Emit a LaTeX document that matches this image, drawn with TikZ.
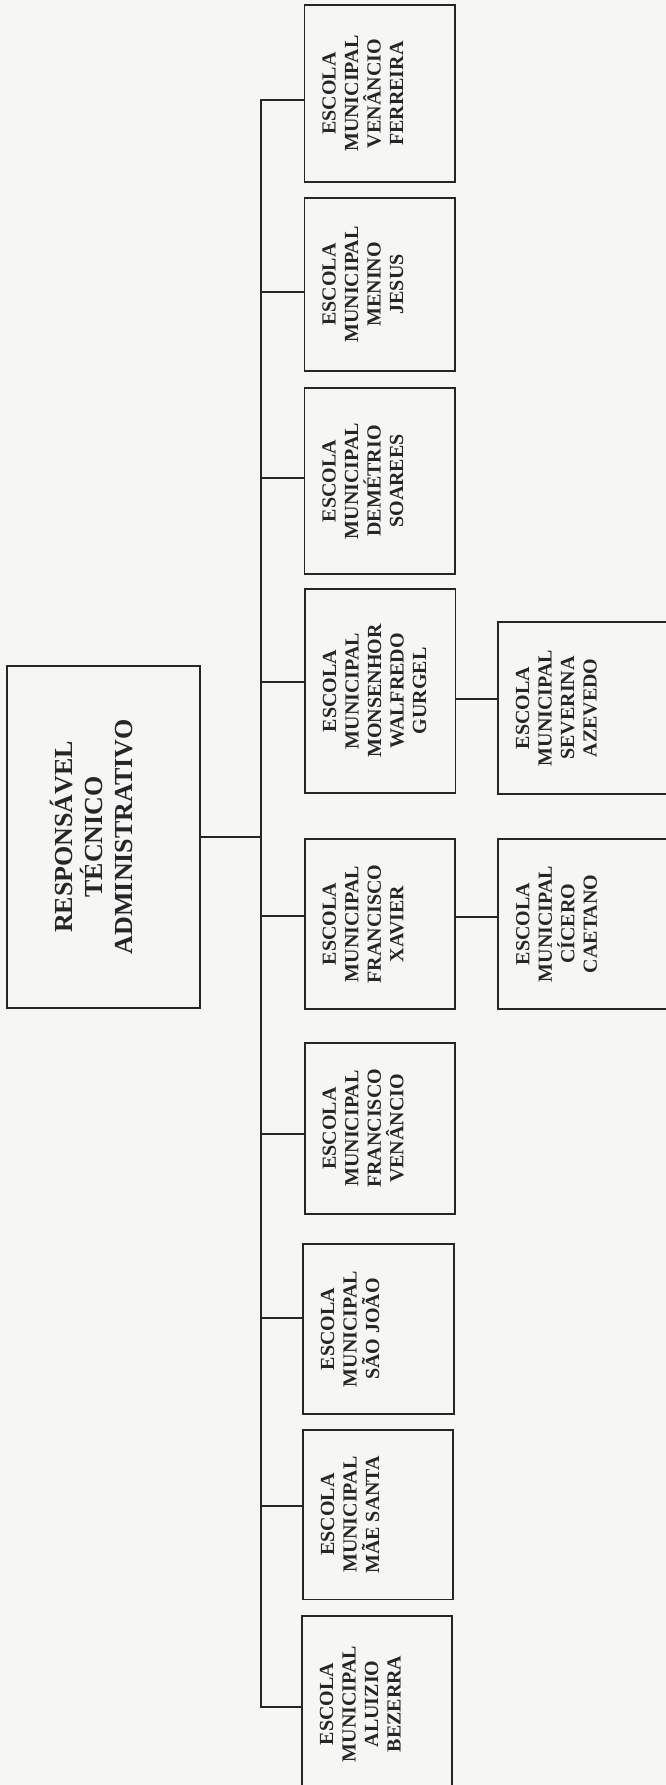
\documentclass[tikz,border=0pt]{standalone}
\usepackage{fontspec}
\setmainfont{Liberation Serif}
\definecolor{ink}{RGB}{38,38,38}
\definecolor{paper}{RGB}{246,246,244}
\begin{document}
\begin{tikzpicture}[x=1pt,y=1pt,
  box/.style={draw=ink, line width=1.8pt, rectangle, inner sep=0pt, anchor=north west},
  lbl/.style={rotate=90, align=center, text=ink, inner sep=0pt,
    font=\bfseries\fontsize{20}{22.5}\selectfont},
  bigl/.style={rotate=90, align=center, text=ink, inner sep=0pt,
    font=\bfseries\fontsize{26}{30}\selectfont},
  wire/.style={draw=ink, line width=1.8pt, line join=miter}]

% page
\fill[paper] (0,0) rectangle (666,-1785);
\useasboundingbox (0,0) rectangle (666,-1785);

% head office
\node[box, minimum width=193, minimum height=342] (r) at (6,-665) {};
\node[bigl] (lr) at ([xshift=86]r.west) {RESPONSÁVEL\\TÉCNICO\\ADMINISTRATIVO};

% first-level schools
\node[box, minimum width=150.5, minimum height=176.5] (b1) at (303.5,-4.5) {};
\node[box, minimum width=150.5, minimum height=173] (b2) at (303.5,-197) {};
\node[box, minimum width=150.5, minimum height=186] (b3) at (303.5,-387) {};
\node[box, minimum width=150.5, minimum height=204] (b4) at (304,-588) {};
\node[box, minimum width=150, minimum height=170] (b5) at (304,-838) {};
\node[box, minimum width=150, minimum height=171] (b6) at (304,-1042) {};
\node[box, minimum width=151, minimum height=170] (b7) at (302,-1243) {};
\node[box, minimum width=150, minimum height=169.5] (b8) at (302,-1429) {};
\node[box, minimum width=150, minimum height=176] (b9) at (301,-1615) {};

\node[lbl] (l1) at ([xshift=59.25]b1.west) {ESCOLA\\MUNICIPAL\\VENÂNCIO\\FERREIRA};
\node[lbl] (l2) at ([xshift=59.25]b2.west) {ESCOLA\\MUNICIPAL\\MENINO\\JESUS};
\node[lbl] (l3) at ([xshift=59.25]b3.west) {ESCOLA\\MUNICIPAL\\DEMÉTRIO\\SOAREES};
\node[lbl] (l4) at ([xshift=70.5]b4.west) {ESCOLA\\MUNICIPAL\\MONSENHOR\\WALFREDO\\GURGEL};
\node[lbl] (l5) at ([xshift=59.25]b5.west) {ESCOLA\\MUNICIPAL\\FRANCISCO\\XAVIER};
\node[lbl] (l6) at ([xshift=59.25]b6.west) {ESCOLA\\MUNICIPAL\\FRANCISCO\\VENÂNCIO};
\node[lbl] (l7) at ([xshift=48]b7.west) {ESCOLA\\MUNICIPAL\\SÃO JOÃO};
\node[lbl] (l8) at ([xshift=48]b8.west) {ESCOLA\\MUNICIPAL\\MÃE SANTA};
\node[lbl] (l9) at ([xshift=59.25]b9.west) {ESCOLA\\MUNICIPAL\\ALUIZIO\\BEZERRA};

% second-level schools
\node[box, minimum width=190, minimum height=172] (s1) at (497,-621) {};
\node[box, minimum width=190, minimum height=170] (s2) at (497,-838) {};
\node[lbl] (m1) at ([xshift=59.5]s1.west) {ESCOLA\\MUNICIPAL\\SEVERINA\\AZEVEDO};
\node[lbl] (m2) at ([xshift=59.5]s2.west) {ESCOLA\\MUNICIPAL\\CÍCERO\\CAETANO};

% junction points on the vertical trunk
\coordinate (k1) at (261,-100);
\coordinate (k2) at (261,-292);
\coordinate (k3) at (261,-478);
\coordinate (k4) at (261,-682);
\coordinate (k5) at (261,-916);
\coordinate (k6) at (261,-1134);
\coordinate (k7) at (261,-1318);
\coordinate (k8) at (261,-1506);
\coordinate (k9) at (261,-1707);
\coordinate (kr) at (261,-837);
\coordinate (j1) at (476,-699);
\coordinate (j2) at (476,-917);

% connectors
\draw[wire] (k1 -| b1.west) -- (k1) -- (k9) -- (k9 -| b9.west);
\draw[wire] (k2) -- (k2 -| b2.west);
\draw[wire] (k3) -- (k3 -| b3.west);
\draw[wire] (k4) -- (k4 -| b4.west);
\draw[wire] (k5) -- (k5 -| b5.west);
\draw[wire] (k6) -- (k6 -| b6.west);
\draw[wire] (k7) -- (k7 -| b7.west);
\draw[wire] (k8) -- (k8 -| b8.west);
\draw[wire] (kr -| r.east) -- (kr);
\draw[wire] (j1 -| b4.east) -- (j1 -| s1.west);
\draw[wire] (j2 -| b5.east) -- (j2 -| s2.west);
\end{tikzpicture}
\end{document}
